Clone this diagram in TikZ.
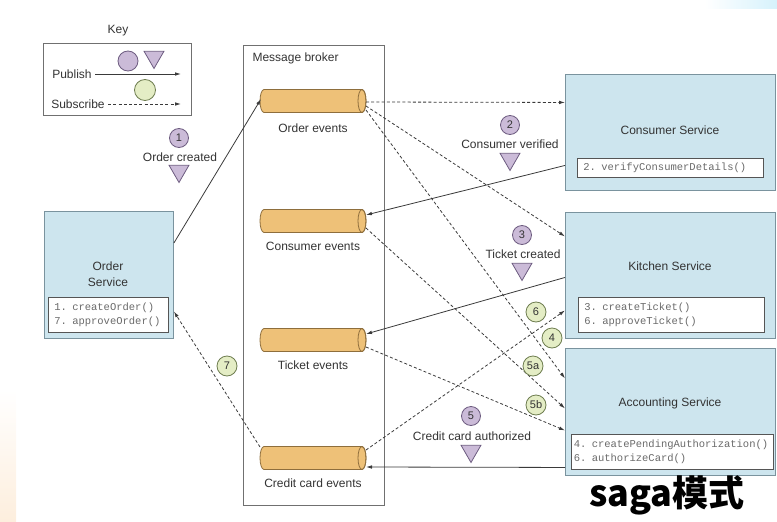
\documentclass[tikz,border=0pt]{standalone}
\usepackage{fontspec}
\setmainfont{Liberation Sans}
\setmonofont{Liberation Mono}
\newfontfamily\cjk{Noto Sans CJK SC}
\usetikzlibrary{shapes.geometric,arrows.meta}
\definecolor{txt}{HTML}{333333}
\definecolor{svcf}{HTML}{CDE5EE}
\definecolor{svcb}{HTML}{7A939E}
\definecolor{methb}{HTML}{555555}
\definecolor{mtxt}{HTML}{6A6A6A}
\definecolor{cylf}{HTML}{EEC178}
\definecolor{cylb}{HTML}{8E6E3C}
\definecolor{pf}{HTML}{CBBBD8}
\definecolor{pb}{HTML}{6D5C80}
\definecolor{gf}{HTML}{E4EDC5}
\definecolor{gb}{HTML}{6E7D50}
\definecolor{lc}{HTML}{3A3A3A}
\definecolor{boxb}{HTML}{707070}
\definecolor{peach}{HTML}{FDEEDD}
\definecolor{skyb}{HTML}{D6F2FC}
\begin{document}
\begin{tikzpicture}[x=1pt,y=-1pt,
  every node/.style={text=txt, font=\fontsize{12}{16}\selectfont},
  svc/.style={draw=svcb, fill=svcf, line width=0.9pt, anchor=north west},
  meth/.style={draw=methb, fill=white, line width=0.8pt, anchor=north west, align=left,
    font=\fontsize{10.5}{14}\selectfont\ttfamily, text=mtxt, inner xsep=6pt, inner ysep=0pt},
  cylnode/.style={rectangle, minimum width=106pt, minimum height=23pt, inner sep=0pt, outer sep=0pt},
  cylbody/.style={draw=cylb, fill=cylf, line width=0.8pt},
  cylend/.style={draw=cylb, line width=0.8pt},
  pcirc/.style={circle, draw=pb, fill=pf, line width=0.8pt, minimum size=19pt, inner sep=0pt,
    font=\fontsize{11}{11}\selectfont},
  gcirc/.style={circle, draw=gb, fill=gf, line width=0.8pt, minimum size=20pt, inner sep=0pt,
    font=\fontsize{11}{11}\selectfont},
  ptri/.style={regular polygon, regular polygon sides=3, shape border rotate=180, draw=pb,
    fill=pf, line width=0.8pt, minimum size=23pt, inner sep=0pt},
  pub/.style={draw=lc, line width=0.8pt, -{Latex[length=6pt,width=3.6pt]}},
  sub/.style={pub, dash pattern=on 3pt off 2.2pt}]
\useasboundingbox (0,0) rectangle (777,522);
% faint slide background
\shade[top color=white, bottom color=peach] (0,390) rectangle (16,522);
\shade[left color=white, right color=skyb] (705,0) rectangle (777,8);

% Key
\node (keyt) at (118,31) {Key};
\node[draw=boxb, line width=0.8pt, minimum width=148pt, minimum height=72pt, anchor=north west, inner sep=0pt] (key) at (43,43) {};
\node[pcirc, minimum size=20pt] (kpc) at (128,61) {};
\node[ptri] (kpt) at (154,57) {};
\node (kpub) at (72,74) {Publish};
\coordinate (kpe) at (181,74);
\draw[pub] (kpub.east) -- (kpe);
\node[gcirc, minimum size=21pt] (kgc) at (145,90) {};
\node (ksub) at (78,104) {Subscribe};
\coordinate (kse) at (181,104);
\draw[sub] (ksub.east) -- (kse);

% Message broker
\node[draw=boxb, line width=0.9pt, minimum width=141pt, minimum height=460pt, anchor=north west, inner sep=0pt] (mb) at (243,45) {};
\node[anchor=west] (mbt) at (249,58) {Message broker};

\node[cylnode] (oe) at (313,101) {};
\node (oel) at (313,128) {Order events};
\node[cylnode] (ce) at (313,221) {};
\node (cel) at (313,246) {Consumer events};
\node[cylnode] (te) at (313,340) {};
\node (tel) at (313,365) {Ticket events};
\node[cylnode] (cce) at (313,458) {};
\node (ccel) at (313,483) {Credit card events};
\foreach \c in {oe,ce,te,cce} {
  \path[cylbody] ([xshift=4pt]\c.north west)
    arc[start angle=90, end angle=270, x radius=4pt, y radius=11.5pt]
    -- ([xshift=-4pt]\c.south east)
    arc[start angle=-90, end angle=90, x radius=4pt, y radius=11.5pt] -- cycle;
  \draw[cylend] ([xshift=-4pt]\c.east) ellipse[x radius=4pt, y radius=11.5pt];
}

% Services
\node[svc, minimum width=210pt, minimum height=116pt] (cs) at (565,74) {};
\node (cst) at (670,130) {Consumer Service};
\node[meth, minimum width=186pt, minimum height=19pt, text width=174pt] (csm) at (577,158) {2. verifyConsumerDetails()};

\node[svc, minimum width=210pt, minimum height=126pt] (ks) at (565,212) {};
\node (kst) at (670,266) {Kitchen Service};
\node[meth, minimum width=186pt, minimum height=35pt, text width=174pt] (ksm) at (578,297) {3. createTicket()\\6. approveTicket()};

\node[svc, minimum width=210pt, minimum height=127pt] (as) at (565,348) {};
\node (ast) at (670,403) {Accounting Service};
\node[meth, minimum width=202pt, minimum height=35pt, text width=197pt, inner xsep=2.5pt] (asm) at (571,434) {4. createPendingAuthorization()\\6. authorizeCard()};

\node[svc, minimum width=129pt, minimum height=127pt] (os) at (44,211) {};
\node[align=center] (ost) at (108,274) {Order\\Service};
\node[meth, minimum width=120pt, minimum height=35pt, text width=108pt] (osm) at (48,297) {1. createOrder()\\7. approveOrder()};

% Publish connectors
\draw[pub] ([yshift=-32pt]os.north east) -- ([yshift=2pt,xshift=1pt]oe.west);
\draw[pub] ([yshift=-33pt]cs.west) -- ([yshift=6pt]ce.east);
\draw[pub] ([yshift=-2pt]ks.west) -- ([yshift=6pt]te.east);
\draw[pub] ([yshift=-55.5pt]as.west) -- ([yshift=-9pt]cce.east);

% Subscribe connectors
\draw[sub] ([yshift=-1pt]oe.east) -- ([yshift=30pt]cs.west);
\draw[sub] ([yshift=-5pt]oe.east) -- ([yshift=39pt]ks.west);
\draw[sub] ([yshift=-9pt]oe.east) -- ([yshift=33.5pt]as.west);
\draw[sub] ([yshift=-7pt]ce.east) -- ([yshift=3.5pt]as.west);
\draw[sub] ([yshift=-7pt]te.east) -- ([yshift=-18.5pt]as.west);
\draw[sub] ([yshift=8pt]cce.east) -- ([yshift=-35pt]ks.west);
\draw[sub] ([yshift=11pt]cce.west) -- ([yshift=-36.5pt]os.east);

% Event labels
\node[pcirc] (n1) at (179,138) {1};
\node (n1t) at (180,157) {Order created};
\node[ptri] (n1v) at (179,171) {};

\node[pcirc] (n2) at (510,125) {2};
\node (n2t) at (510,144) {Consumer verified};
\node[ptri] (n2v) at (510,159) {};

\node[pcirc] (n3) at (522,235) {3};
\node (n3t) at (523,254) {Ticket created};
\node[ptri] (n3v) at (522,269) {};

\node[pcirc] (n5) at (471,416) {5};
\node (n5t) at (472,436) {Credit card authorized};
\node[ptri] (n5v) at (471,451) {};

\node[gcirc] (g6) at (536,312) {6};
\node[gcirc] (g4) at (552,338) {4};
\node[gcirc] (g5a) at (533,366) {5a};
\node[gcirc] (g5b) at (536,405) {5b};
\node[gcirc] (g7) at (227,366) {7};

\node[font=\cjk\bfseries\fontsize{36}{36}\selectfont, text=black] (saga) at (667,495) {saga模式};
\end{tikzpicture}
\end{document}
